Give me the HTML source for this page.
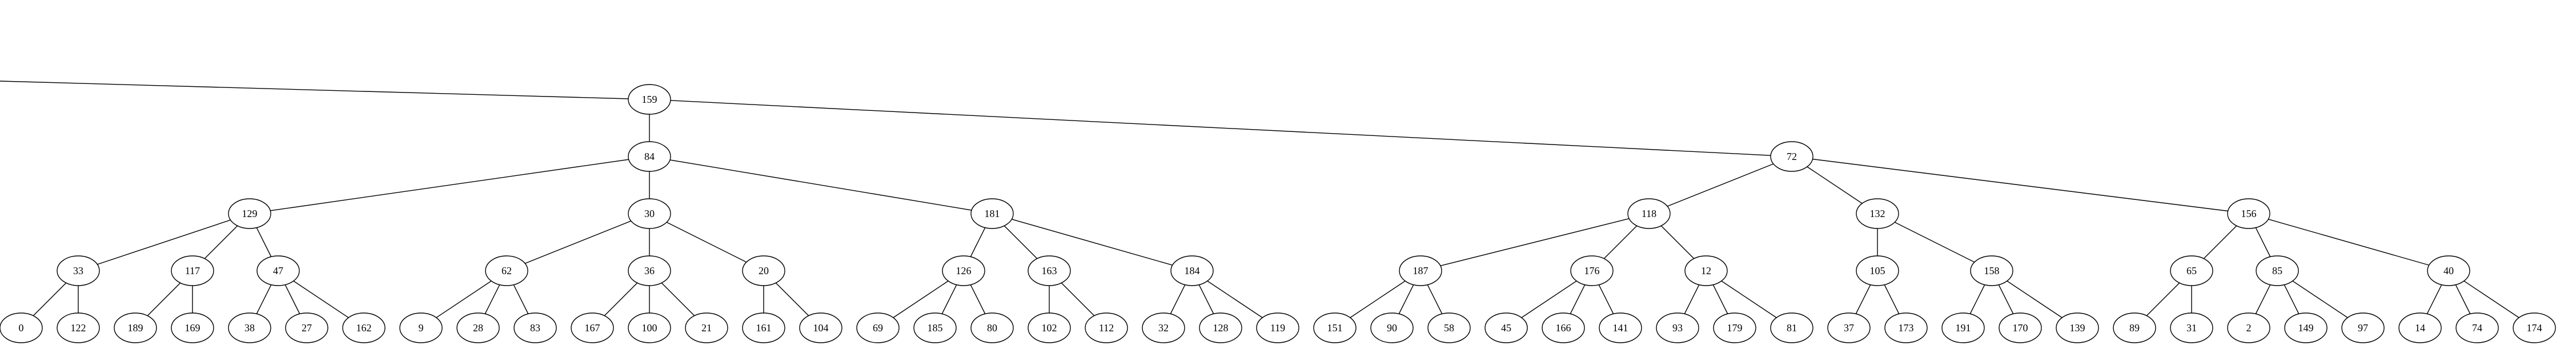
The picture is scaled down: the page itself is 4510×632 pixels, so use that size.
<!DOCTYPE html>
<html><head><meta charset="utf-8"><style>
html,body{margin:0;padding:0;background:#fff;width:4510px;height:632px;overflow:hidden}
svg{display:block}
text{font-family:"Liberation Serif",serif;font-size:18px;text-anchor:middle;dominant-baseline:central;fill:#000}
ellipse{fill:#fff;stroke:#000;stroke-width:1.4}
line{stroke:#000;stroke-width:1.4}
</style></head><body>
<svg width="4510" height="632" viewBox="0 0 4510 632" xmlns="http://www.w3.org/2000/svg">
<g>
<line x1="0" y1="142" x2="1137" y2="174"/>
<line x1="1137" y1="174" x2="1137" y2="274"/>
<line x1="1137" y1="174" x2="3137" y2="274"/>
<line x1="1137" y1="274" x2="437" y2="374"/>
<line x1="1137" y1="274" x2="1137" y2="374"/>
<line x1="1137" y1="274" x2="1737" y2="374"/>
<line x1="3137" y1="274" x2="2887" y2="374"/>
<line x1="3137" y1="274" x2="3287" y2="374"/>
<line x1="3137" y1="274" x2="3937" y2="374"/>
<line x1="437" y1="374" x2="137" y2="474"/>
<line x1="437" y1="374" x2="337" y2="474"/>
<line x1="437" y1="374" x2="487" y2="474"/>
<line x1="1137" y1="374" x2="887" y2="474"/>
<line x1="1137" y1="374" x2="1137" y2="474"/>
<line x1="1137" y1="374" x2="1337" y2="474"/>
<line x1="1737" y1="374" x2="1687" y2="474"/>
<line x1="1737" y1="374" x2="1837" y2="474"/>
<line x1="1737" y1="374" x2="2087" y2="474"/>
<line x1="2887" y1="374" x2="2487" y2="474"/>
<line x1="2887" y1="374" x2="2787" y2="474"/>
<line x1="2887" y1="374" x2="2987" y2="474"/>
<line x1="3287" y1="374" x2="3287" y2="474"/>
<line x1="3287" y1="374" x2="3487" y2="474"/>
<line x1="3937" y1="374" x2="3837" y2="474"/>
<line x1="3937" y1="374" x2="3987" y2="474"/>
<line x1="3937" y1="374" x2="4287" y2="474"/>
<line x1="137" y1="474" x2="37" y2="574"/>
<line x1="137" y1="474" x2="137" y2="574"/>
<line x1="337" y1="474" x2="237" y2="574"/>
<line x1="337" y1="474" x2="337" y2="574"/>
<line x1="487" y1="474" x2="437" y2="574"/>
<line x1="487" y1="474" x2="537" y2="574"/>
<line x1="487" y1="474" x2="637" y2="574"/>
<line x1="887" y1="474" x2="737" y2="574"/>
<line x1="887" y1="474" x2="837" y2="574"/>
<line x1="887" y1="474" x2="937" y2="574"/>
<line x1="1137" y1="474" x2="1037" y2="574"/>
<line x1="1137" y1="474" x2="1137" y2="574"/>
<line x1="1137" y1="474" x2="1237" y2="574"/>
<line x1="1337" y1="474" x2="1337" y2="574"/>
<line x1="1337" y1="474" x2="1437" y2="574"/>
<line x1="1687" y1="474" x2="1537" y2="574"/>
<line x1="1687" y1="474" x2="1637" y2="574"/>
<line x1="1687" y1="474" x2="1737" y2="574"/>
<line x1="1837" y1="474" x2="1837" y2="574"/>
<line x1="1837" y1="474" x2="1937" y2="574"/>
<line x1="2087" y1="474" x2="2037" y2="574"/>
<line x1="2087" y1="474" x2="2137" y2="574"/>
<line x1="2087" y1="474" x2="2237" y2="574"/>
<line x1="2487" y1="474" x2="2337" y2="574"/>
<line x1="2487" y1="474" x2="2437" y2="574"/>
<line x1="2487" y1="474" x2="2537" y2="574"/>
<line x1="2787" y1="474" x2="2637" y2="574"/>
<line x1="2787" y1="474" x2="2737" y2="574"/>
<line x1="2787" y1="474" x2="2837" y2="574"/>
<line x1="2987" y1="474" x2="2937" y2="574"/>
<line x1="2987" y1="474" x2="3037" y2="574"/>
<line x1="2987" y1="474" x2="3137" y2="574"/>
<line x1="3287" y1="474" x2="3237" y2="574"/>
<line x1="3287" y1="474" x2="3337" y2="574"/>
<line x1="3487" y1="474" x2="3437" y2="574"/>
<line x1="3487" y1="474" x2="3537" y2="574"/>
<line x1="3487" y1="474" x2="3637" y2="574"/>
<line x1="3837" y1="474" x2="3737" y2="574"/>
<line x1="3837" y1="474" x2="3837" y2="574"/>
<line x1="3987" y1="474" x2="3937" y2="574"/>
<line x1="3987" y1="474" x2="4037" y2="574"/>
<line x1="3987" y1="474" x2="4137" y2="574"/>
<line x1="4287" y1="474" x2="4237" y2="574"/>
<line x1="4287" y1="474" x2="4337" y2="574"/>
<line x1="4287" y1="474" x2="4437" y2="574"/>
</g>
<g>
<ellipse cx="1137" cy="174" rx="37" ry="26"/><text x="1137" y="174">159</text>
<ellipse cx="1137" cy="274" rx="37" ry="26"/><text x="1137" y="274">84</text>
<ellipse cx="3137" cy="274" rx="37" ry="26"/><text x="3137" y="274">72</text>
<ellipse cx="437" cy="374" rx="37" ry="26"/><text x="437" y="374">129</text>
<ellipse cx="1137" cy="374" rx="37" ry="26"/><text x="1137" y="374">30</text>
<ellipse cx="1737" cy="374" rx="37" ry="26"/><text x="1737" y="374">181</text>
<ellipse cx="2887" cy="374" rx="37" ry="26"/><text x="2887" y="374">118</text>
<ellipse cx="3287" cy="374" rx="37" ry="26"/><text x="3287" y="374">132</text>
<ellipse cx="3937" cy="374" rx="37" ry="26"/><text x="3937" y="374">156</text>
<ellipse cx="137" cy="474" rx="37" ry="26"/><text x="137" y="474">33</text>
<ellipse cx="337" cy="474" rx="37" ry="26"/><text x="337" y="474">117</text>
<ellipse cx="487" cy="474" rx="37" ry="26"/><text x="487" y="474">47</text>
<ellipse cx="887" cy="474" rx="37" ry="26"/><text x="887" y="474">62</text>
<ellipse cx="1137" cy="474" rx="37" ry="26"/><text x="1137" y="474">36</text>
<ellipse cx="1337" cy="474" rx="37" ry="26"/><text x="1337" y="474">20</text>
<ellipse cx="1687" cy="474" rx="37" ry="26"/><text x="1687" y="474">126</text>
<ellipse cx="1837" cy="474" rx="37" ry="26"/><text x="1837" y="474">163</text>
<ellipse cx="2087" cy="474" rx="37" ry="26"/><text x="2087" y="474">184</text>
<ellipse cx="2487" cy="474" rx="37" ry="26"/><text x="2487" y="474">187</text>
<ellipse cx="2787" cy="474" rx="37" ry="26"/><text x="2787" y="474">176</text>
<ellipse cx="2987" cy="474" rx="37" ry="26"/><text x="2987" y="474">12</text>
<ellipse cx="3287" cy="474" rx="37" ry="26"/><text x="3287" y="474">105</text>
<ellipse cx="3487" cy="474" rx="37" ry="26"/><text x="3487" y="474">158</text>
<ellipse cx="3837" cy="474" rx="37" ry="26"/><text x="3837" y="474">65</text>
<ellipse cx="3987" cy="474" rx="37" ry="26"/><text x="3987" y="474">85</text>
<ellipse cx="4287" cy="474" rx="37" ry="26"/><text x="4287" y="474">40</text>
<ellipse cx="37" cy="574" rx="37" ry="26"/><text x="37" y="574">0</text>
<ellipse cx="137" cy="574" rx="37" ry="26"/><text x="137" y="574">122</text>
<ellipse cx="237" cy="574" rx="37" ry="26"/><text x="237" y="574">189</text>
<ellipse cx="337" cy="574" rx="37" ry="26"/><text x="337" y="574">169</text>
<ellipse cx="437" cy="574" rx="37" ry="26"/><text x="437" y="574">38</text>
<ellipse cx="537" cy="574" rx="37" ry="26"/><text x="537" y="574">27</text>
<ellipse cx="637" cy="574" rx="37" ry="26"/><text x="637" y="574">162</text>
<ellipse cx="737" cy="574" rx="37" ry="26"/><text x="737" y="574">9</text>
<ellipse cx="837" cy="574" rx="37" ry="26"/><text x="837" y="574">28</text>
<ellipse cx="937" cy="574" rx="37" ry="26"/><text x="937" y="574">83</text>
<ellipse cx="1037" cy="574" rx="37" ry="26"/><text x="1037" y="574">167</text>
<ellipse cx="1137" cy="574" rx="37" ry="26"/><text x="1137" y="574">100</text>
<ellipse cx="1237" cy="574" rx="37" ry="26"/><text x="1237" y="574">21</text>
<ellipse cx="1337" cy="574" rx="37" ry="26"/><text x="1337" y="574">161</text>
<ellipse cx="1437" cy="574" rx="37" ry="26"/><text x="1437" y="574">104</text>
<ellipse cx="1537" cy="574" rx="37" ry="26"/><text x="1537" y="574">69</text>
<ellipse cx="1637" cy="574" rx="37" ry="26"/><text x="1637" y="574">185</text>
<ellipse cx="1737" cy="574" rx="37" ry="26"/><text x="1737" y="574">80</text>
<ellipse cx="1837" cy="574" rx="37" ry="26"/><text x="1837" y="574">102</text>
<ellipse cx="1937" cy="574" rx="37" ry="26"/><text x="1937" y="574">112</text>
<ellipse cx="2037" cy="574" rx="37" ry="26"/><text x="2037" y="574">32</text>
<ellipse cx="2137" cy="574" rx="37" ry="26"/><text x="2137" y="574">128</text>
<ellipse cx="2237" cy="574" rx="37" ry="26"/><text x="2237" y="574">119</text>
<ellipse cx="2337" cy="574" rx="37" ry="26"/><text x="2337" y="574">151</text>
<ellipse cx="2437" cy="574" rx="37" ry="26"/><text x="2437" y="574">90</text>
<ellipse cx="2537" cy="574" rx="37" ry="26"/><text x="2537" y="574">58</text>
<ellipse cx="2637" cy="574" rx="37" ry="26"/><text x="2637" y="574">45</text>
<ellipse cx="2737" cy="574" rx="37" ry="26"/><text x="2737" y="574">166</text>
<ellipse cx="2837" cy="574" rx="37" ry="26"/><text x="2837" y="574">141</text>
<ellipse cx="2937" cy="574" rx="37" ry="26"/><text x="2937" y="574">93</text>
<ellipse cx="3037" cy="574" rx="37" ry="26"/><text x="3037" y="574">179</text>
<ellipse cx="3137" cy="574" rx="37" ry="26"/><text x="3137" y="574">81</text>
<ellipse cx="3237" cy="574" rx="37" ry="26"/><text x="3237" y="574">37</text>
<ellipse cx="3337" cy="574" rx="37" ry="26"/><text x="3337" y="574">173</text>
<ellipse cx="3437" cy="574" rx="37" ry="26"/><text x="3437" y="574">191</text>
<ellipse cx="3537" cy="574" rx="37" ry="26"/><text x="3537" y="574">170</text>
<ellipse cx="3637" cy="574" rx="37" ry="26"/><text x="3637" y="574">139</text>
<ellipse cx="3737" cy="574" rx="37" ry="26"/><text x="3737" y="574">89</text>
<ellipse cx="3837" cy="574" rx="37" ry="26"/><text x="3837" y="574">31</text>
<ellipse cx="3937" cy="574" rx="37" ry="26"/><text x="3937" y="574">2</text>
<ellipse cx="4037" cy="574" rx="37" ry="26"/><text x="4037" y="574">149</text>
<ellipse cx="4137" cy="574" rx="37" ry="26"/><text x="4137" y="574">97</text>
<ellipse cx="4237" cy="574" rx="37" ry="26"/><text x="4237" y="574">14</text>
<ellipse cx="4337" cy="574" rx="37" ry="26"/><text x="4337" y="574">74</text>
<ellipse cx="4437" cy="574" rx="37" ry="26"/><text x="4437" y="574">174</text>
</g>
</svg>
</body></html>
